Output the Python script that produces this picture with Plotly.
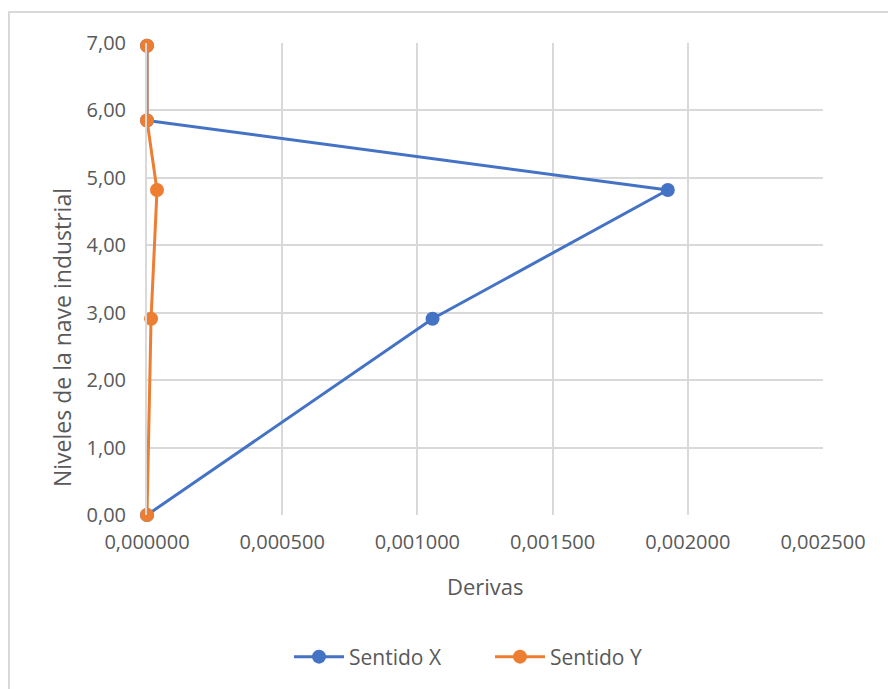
import plotly.graph_objects as go

# Derivas por nivel de la nave industrial
niveles_x = [0.0, 2.91, 4.82, 5.85, 6.96]
derivas_x = [0.0, 0.001056, 0.001926, 0.0, 0.0]

niveles_y = [0.0, 2.91, 4.82, 5.85, 6.96]
derivas_y = [0.0, 0.000015, 0.000037, 0.0, 0.0]

x_ticks = [0.0, 0.0005, 0.001, 0.0015, 0.002, 0.0025]
y_ticks = [0, 1, 2, 3, 4, 5, 6, 7]

AZUL = "#4472C4"
NARANJA = "#ED7D31"
GRIS_TXT = "#595959"
GRID = "#d9d9d9"
FONT = "'Open Sans', 'Noto Sans', sans-serif"

fig = go.Figure()
fig.add_trace(go.Scatter(
    x=derivas_x, y=niveles_x, mode="lines+markers", name="Sentido X",
    line=dict(color=AZUL, width=3), marker=dict(size=14, color=AZUL),
    cliponaxis=False,
))
fig.add_trace(go.Scatter(
    x=derivas_y, y=niveles_y, mode="lines+markers", name="Sentido Y",
    line=dict(color=NARANJA, width=3), marker=dict(size=14, color=NARANJA),
    cliponaxis=False,
))

W, H = 888, 689
L, R, T, B = 147, 65, 43, 174
pw, ph = W - L - R, H - T - B


def px_x(p):
    return (p - L) / pw


def px_y(p):
    return (H - B - p) / ph


# marco exterior del gráfico
fig.add_shape(
    type="rect", xref="paper", yref="paper", layer="below",
    x0=px_x(9), x1=px_x(W + 20), y0=px_y(H + 20), y1=px_y(12),
    line=dict(color=GRID, width=2), fillcolor="rgba(0,0,0,0)",
)

# títulos de los ejes
fig.add_annotation(
    text="Derivas", xref="paper", yref="paper", x=px_x(486), y=px_y(586),
    showarrow=False, xanchor="center", yanchor="middle",
    font=dict(size=22, color=GRIS_TXT, family=FONT),
)
fig.add_annotation(
    text="Niveles de la nave industrial", xref="paper", yref="paper",
    x=px_x(62), y=px_y(338), textangle=-90,
    showarrow=False, xanchor="center", yanchor="middle",
    font=dict(size=23, color=GRIS_TXT, family=FONT),
)

fig.update_layout(
    width=W, height=H,
    margin=dict(l=L, r=R, t=T, b=B),
    paper_bgcolor="white", plot_bgcolor="white",
    separators=", ",
    font=dict(family=FONT, color=GRIS_TXT, size=20),
    showlegend=True,
    legend=dict(orientation="h", x=px_x(289), xanchor="left", y=px_y(657), yanchor="middle",
                font=dict(size=21, color=GRIS_TXT), entrywidth=136, itemwidth=50),
    xaxis=dict(
        range=[0, 0.0025], tickvals=x_ticks, tickformat=".6f",
        showgrid=True, gridcolor=GRID, gridwidth=2,
        showline=False, zeroline=False, ticks="", ticklabelstandoff=13,
        tickfont=dict(size=20, color=GRIS_TXT),
    ),
    yaxis=dict(
        range=[0, 7], tickvals=y_ticks, tickformat=".2f",
        showgrid=True, gridcolor=GRID, gridwidth=2,
        showline=True, linecolor=GRID, linewidth=2, zeroline=False, ticks="",
        ticklabelstandoff=15,
        tickfont=dict(size=20, color=GRIS_TXT),
    ),
)

fig.write_html("out.html")
